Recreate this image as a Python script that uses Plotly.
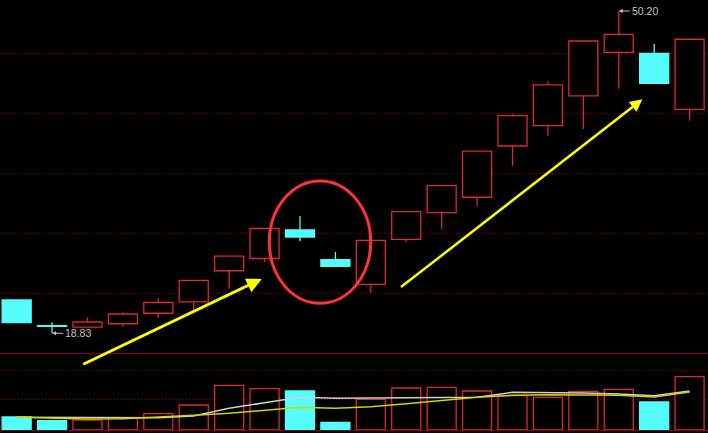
import plotly.graph_objects as go

# 20 根日K线
days = list(range(20))
opens = [22.07, 19.57, 19.44, 19.76, 20.78, 21.88, 24.92, 26.11, 28.89, 26.00,
         23.60, 27.98, 30.57, 32.07, 37.06, 39.04, 41.93, 46.18, 46.08, 40.63]
highs = [22.07, 19.90, 20.39, 20.87, 22.22, 23.99, 26.35, 29.03, 30.25, 26.74,
         27.88, 30.67, 33.26, 36.57, 40.17, 43.39, 47.28, 50.20, 46.99, 47.45]
lows = [19.86, 18.83, 19.44, 19.47, 20.35, 21.05, 23.17, 25.77, 27.81, 25.35,
        22.78, 27.72, 29.01, 31.19, 35.14, 38.06, 38.71, 42.64, 43.16, 39.52]
closes = [19.86, 19.51, 19.93, 20.71, 21.83, 23.99, 26.35, 29.03, 28.20, 25.35,
          27.88, 30.67, 33.20, 36.57, 40.01, 43.00, 47.28, 47.93, 43.16, 47.45]

# 成交量 和 均量线
volumes = [13000, 9300, 10000, 12000, 16300, 25000, 44700, 41300, 39000, 7700,
           30700, 42000, 42700, 39000, 34300, 32700, 38700, 40700, 28000, 53300]
vol_ma5 = [12700, 12700, 12700, 12000, 12300, 14000, 21700, 27300, 32700, 31700,
           32000, 32300, 32000, 32700, 37700, 37700, 37000, 36000, 34300, 39000]
vol_ma10 = [12700, 12000, 11000, 11300, 12700, 14700, 16700, 20000, 22700, 21700,
            23300, 26300, 29700, 32700, 34700, 35300, 35000, 34700, 33000, 38000]

high_label = "50.20"
low_label = "18.83"

RED = "#dd2a2a"
CYAN = "#54fcfc"
GRID = "#9a0000"
BAR_W = 0.82

H_PLOT = 430  # px of plot area (433 - bottom margin)
split = 1 - 353 / H_PLOT

up = [c >= o for o, c in zip(opens, closes)]


def wick_xy(sel):
    # 上影线和下影线分开画, 不穿过空心实体
    xs, ys = [], []
    for d, o, h, l, c, s in zip(days, opens, highs, lows, closes, sel):
        if not s:
            continue
        top, bot = max(o, c), min(o, c)
        if h > top:
            xs += [d, d, None]
            ys += [top, h, None]
        if l < bot:
            xs += [d, d, None]
            ys += [l, bot, None]
    return xs, ys


fig = go.Figure()

# 影线
for sel, col in ((up, RED), ([not u for u in up], CYAN)):
    wx, wy = wick_xy(sel)
    fig.add_trace(go.Scatter(x=wx, y=wy, mode="lines",
                             line=dict(color=col, width=1.3),
                             xaxis="x", yaxis="y", hoverinfo="skip"))

# 实体
fig.add_trace(go.Bar(
    x=days,
    y=[abs(c - o) for o, c in zip(opens, closes)],
    base=[min(o, c) for o, c in zip(opens, closes)],
    width=BAR_W,
    marker=dict(color=["black" if u else CYAN for u in up],
                line=dict(color=[RED if u else CYAN for u in up], width=1.3)),
    xaxis="x", yaxis="y"))

# 成交量
fig.add_trace(go.Bar(
    x=days, y=volumes, width=BAR_W,
    marker=dict(color=["black" if u else CYAN for u in up],
                line=dict(color=[RED if u else CYAN for u in up], width=1.3)),
    xaxis="x2", yaxis="y2"))

fig.add_trace(go.Scatter(x=days, y=vol_ma5, mode="lines",
                         line=dict(color="#d0d0d0", width=1.5),
                         xaxis="x2", yaxis="y2"))
fig.add_trace(go.Scatter(x=days, y=vol_ma10, mode="lines",
                         line=dict(color="#d4d400", width=1.5),
                         xaxis="x2", yaxis="y2"))


# 网格线位置 (像素换算成价格)
def px_to_price(p):
    return 51.2706 - 0.09733 * p


price_grid = [px_to_price(p) for p in (53, 113, 173, 233, 293)]

label_font = dict(family="Liberation Sans, Arial", size=10.5, color="#c0c0c0")
i_hi = highs.index(max(highs))
i_lo = lows.index(min(lows))

fig.update_layout(
    width=708, height=433,
    margin=dict(l=0, r=0, t=0, b=3),
    paper_bgcolor="black", plot_bgcolor="black",
    showlegend=False, barmode="overlay",
    xaxis=dict(domain=[0, 1], anchor="y", range=[-0.47, 19.52],
               showticklabels=False, showgrid=False, zeroline=False,
               showline=True, linecolor="#8b0000", linewidth=1),
    yaxis=dict(domain=[split, 1], range=[px_to_price(353), px_to_price(0)],
               tickvals=price_grid, showticklabels=False, zeroline=False,
               gridcolor=GRID, griddash="1px,2px", gridwidth=1),
    xaxis2=dict(domain=[0, 1], anchor="y2", matches="x",
                showticklabels=False, showgrid=False, zeroline=False,
                showline=True, linecolor="#8b0000", linewidth=1),
    yaxis2=dict(domain=[0, split], range=[0, 77000],
                tickvals=[30700, 59700], showticklabels=False, zeroline=False,
                gridcolor=GRID, griddash="1px,2px", gridwidth=1),
    annotations=[
        dict(x=days[i_hi], y=highs[i_hi], xref="x", yref="y", text=high_label,
             showarrow=True, ax=11, ay=0, xanchor="left", arrowhead=2,
             arrowsize=0.8, arrowwidth=1, arrowcolor="#c0c0c0", font=label_font),
        dict(x=days[i_lo], y=lows[i_lo], xref="x", yref="y", text=low_label,
             showarrow=True, ax=11, ay=0, xanchor="left", arrowhead=2,
             arrowsize=0.8, arrowwidth=1, arrowcolor="#c0c0c0", font=label_font),
        dict(x=6.92, y=24.12, xref="x", yref="y", text="", showarrow=True,
             ax=-180, ay=86, arrowhead=2, arrowsize=1, arrowwidth=3,
             arrowcolor="#ffff00"),
        dict(x=17.67, y=41.61, xref="x", yref="y", text="", showarrow=True,
             ax=-243, ay=189, arrowhead=2, arrowsize=1, arrowwidth=2.5,
             arrowcolor="#ffff00"),
    ],
    shapes=[
        dict(type="circle", xref="paper", yref="paper",
             x0=269.3 / 708, x1=370.7 / 708,
             y0=1 - 303.3 / H_PLOT, y1=1 - 181 / H_PLOT,
             line=dict(color="#ff3333", width=3)),
    ],
)

fig.write_html("out.html",
               config={"displayModeBar": False},
               post_script="document.body.style.margin='0';"
                           "document.body.style.background='black';")
